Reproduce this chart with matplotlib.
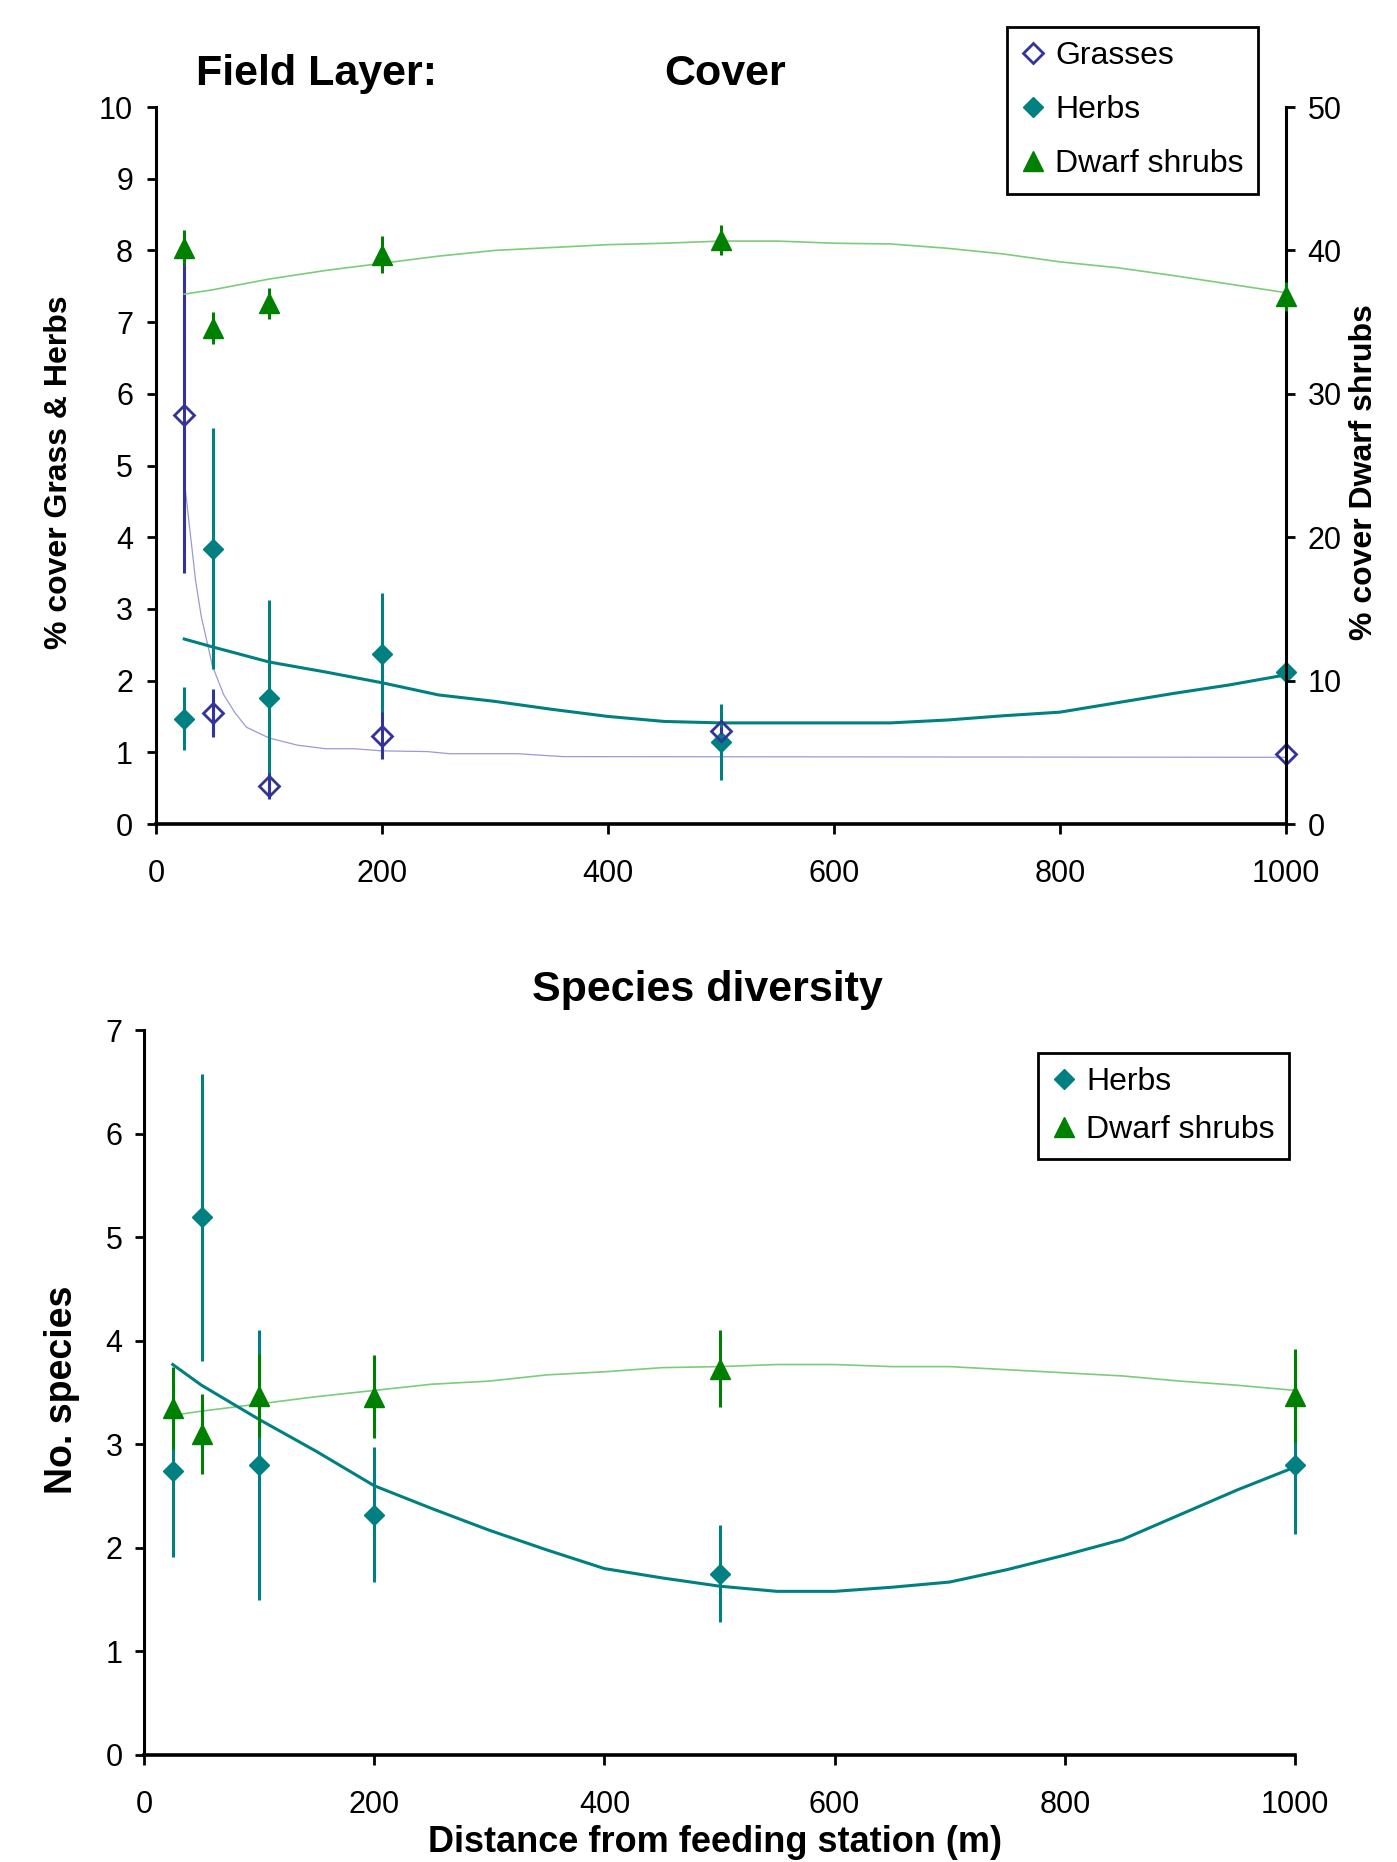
import matplotlib
matplotlib.use("Agg")
import matplotlib.pyplot as plt
from matplotlib.lines import Line2D

plt.rcParams['font.family'] = ['Liberation Sans', 'DejaVu Sans']

# distances of the sampling plots (m)
dist = [25, 50, 100, 200, 500, 1000]

# --- Field layer cover ---
grass_cover = [5.70, 1.55, 0.53, 1.23, 1.30, 0.98]
grass_err = [2.20, 0.33, 0.18, 0.33, 0.05, 0.0]
herb_cover = [1.47, 3.84, 1.76, 2.37, 1.15, 2.12]
herb_err = [0.44, 1.68, 1.37, 0.85, 0.53, 0.0]
shrub_cover = [40.2, 34.6, 36.3, 39.7, 40.7, 36.8]   # right axis
shrub_err = [1.2, 1.1, 1.1, 1.3, 1.05, 1.0]

# trend lines
grass_fit_x = [25, 30, 35, 40, 50, 60, 70, 80, 100, 125, 150, 175, 200, 240, 260, 320, 360, 1000]
grass_fit = [4.8, 4.1, 3.4, 2.9, 2.2, 1.8, 1.55, 1.35, 1.2, 1.1, 1.05, 1.05, 1.02, 1.01, 0.98, 0.98, 0.94, 0.93]

fit_x = [25, 50, 100, 150, 200, 250, 300, 350, 400, 450, 500,
         550, 600, 650, 700, 750, 800, 850, 900, 950, 1000]
herb_fit = [2.58, 2.47, 2.26, 2.12, 1.97, 1.80, 1.71, 1.60, 1.50, 1.43, 1.41,
            1.41, 1.41, 1.41, 1.45, 1.51, 1.56, 1.69, 1.82, 1.94, 2.08]
shrub_fit = [36.95, 37.25, 38.0, 38.6, 39.1, 39.6, 40.0, 40.2, 40.4, 40.5, 40.65,
             40.65, 40.5, 40.45, 40.15, 39.75, 39.2, 38.8, 38.25, 37.65, 37.05]

# --- Species diversity ---
div_herb = [2.74, 5.19, 2.80, 2.32, 1.75, 2.80]
div_herb_err = [0.83, 1.39, 1.30, 0.65, 0.47, 0.67]
div_shrub = [3.35, 3.10, 3.47, 3.46, 3.73, 3.47]
div_shrub_err = [0.40, 0.39, 0.40, 0.40, 0.37, 0.45]

div_herb_fit = [3.77, 3.57, 3.24, 2.93, 2.60, 2.38, 2.17, 1.98, 1.80, 1.71, 1.63,
                1.58, 1.58, 1.62, 1.67, 1.79, 1.93, 2.08, 2.32, 2.56, 2.78]
div_shrub_fit = [3.28, 3.32, 3.39, 3.46, 3.52, 3.58, 3.61, 3.67, 3.70, 3.74, 3.75,
                 3.77, 3.77, 3.75, 3.75, 3.72, 3.69, 3.66, 3.61, 3.57, 3.52]

c_grass = '#333399'
c_grass_fit = '#9a9ad8'
c_herb = '#008080'
c_shrub = '#008000'
c_shrub_fit = '#7ccc7c'

TICK = 22
LEG = 23
W, H = 1397, 1862
MS_D = 10
MS_T = 14


def style_axis(ax, xpad, ypad):
    for s in ['top', 'right']:
        ax.spines[s].set_visible(False)
    ax.spines['left'].set_linewidth(2.2)
    ax.spines['bottom'].set_linewidth(2.6)
    ax.tick_params(axis='y', labelsize=TICK, length=6.5, width=2, pad=ypad)
    ax.tick_params(axis='x', labelsize=TICK, length=7.5, width=2, pad=xpad)


fig = plt.figure(figsize=(W / 100, H / 100), dpi=100)

# ---------------- top panel ----------------
ax1 = fig.add_axes([156 / W, 1 - 824 / H, 1130 / W, 717 / H])
ax2 = ax1.twinx()
ax2.set_position(ax1.get_position())

ax1.plot(grass_fit_x, grass_fit, color=c_grass_fit, lw=0.9, zorder=2)
ax1.plot(fit_x, herb_fit, color=c_herb, lw=2.2, zorder=2)
ax2.plot(fit_x, shrub_fit, color=c_shrub_fit, lw=1.2, zorder=2)

ax1.errorbar(dist, grass_cover, yerr=grass_err, fmt='D', ms=MS_D, mfc='none',
             mec=c_grass, mew=2, ecolor=c_grass, elinewidth=2.2, capsize=0,
             clip_on=False, zorder=4)
ax1.errorbar(dist, herb_cover, yerr=herb_err, fmt='D', ms=MS_D, color=c_herb,
             ecolor=c_herb, elinewidth=2.2, capsize=0, clip_on=False, zorder=3)
ax2.errorbar(dist, shrub_cover, yerr=shrub_err, fmt='^', ms=MS_T, color=c_shrub,
             ecolor=c_shrub, elinewidth=2.2, capsize=0, clip_on=False, zorder=3)

ax1.set_xlim(0, 1000)
ax1.set_ylim(0, 10)
ax1.set_xticks(range(0, 1001, 200))
ax1.set_yticks(range(0, 11))
ax2.set_ylim(0, 50)
ax2.set_yticks(range(0, 51, 10))
style_axis(ax1, xpad=18, ypad=10)
ax2.spines['top'].set_visible(False)
ax2.spines['left'].set_visible(False)
ax2.spines['bottom'].set_visible(False)
ax2.spines['right'].set_linewidth(2.2)
ax2.tick_params(axis='y', labelsize=TICK, length=6.5, width=2, pad=9)

fig.text(317 / W, 1 - 74 / H, 'Field Layer:', fontsize=31, fontweight='bold',
         ha='center', va='center')
fig.text(725 / W, 1 - 74 / H, 'Cover', fontsize=31, fontweight='bold',
         ha='center', va='center')
fig.text(59 / W, 1 - 472 / H, '% cover Grass & Herbs', fontsize=23,
         fontweight='bold', rotation=90, ha='center', va='center')
fig.text(1364 / W, 1 - 472 / H, '% cover Dwarf shrubs', fontsize=23,
         fontweight='bold', rotation=90, ha='center', va='center')

h_top = [
    Line2D([], [], ls='none', marker='D', ms=MS_D, mfc='none', mec=c_grass, mew=2),
    Line2D([], [], ls='none', marker='D', ms=MS_D, color=c_herb),
    Line2D([], [], ls='none', marker='^', ms=MS_T, color=c_shrub),
]
leg1 = fig.legend(h_top, ['Grasses', 'Herbs', 'Dwarf shrubs'], loc='upper right',
                  bbox_to_anchor=(1258 / W, 1 - 27 / H), fontsize=LEG,
                  frameon=True, fancybox=False, edgecolor='black', framealpha=1,
                  handlelength=0.7, handletextpad=0.35, labelspacing=0.75,
                  borderpad=0.45, borderaxespad=0)
leg1.get_frame().set_linewidth(2)

# ---------------- bottom panel ----------------
ax3 = fig.add_axes([144 / W, 1 - 1755 / H, 1151 / W, 725 / H])
ax3.plot(fit_x, div_shrub_fit, color=c_shrub_fit, lw=1.2, zorder=2)
ax3.plot(fit_x, div_herb_fit, color=c_herb, lw=2.2, zorder=2)
ax3.errorbar(dist, div_herb, yerr=div_herb_err, fmt='D', ms=MS_D, color=c_herb,
             ecolor=c_herb, elinewidth=2.2, capsize=0, clip_on=False, zorder=3)
ax3.errorbar(dist, div_shrub, yerr=div_shrub_err, fmt='^', ms=MS_T, color=c_shrub,
             ecolor=c_shrub, elinewidth=2.2, capsize=0, clip_on=False, zorder=4)
ax3.set_xlim(0, 1000)
ax3.set_ylim(0, 7)
ax3.set_xticks(range(0, 1001, 200))
ax3.set_yticks(range(0, 8))
style_axis(ax3, xpad=18, ypad=9)

fig.text(707 / W, 1 - 990 / H, 'Species diversity', fontsize=31,
         fontweight='bold', ha='center', va='center')
fig.text(62 / W, 1 - 1390 / H, 'No. species', fontsize=27, fontweight='bold',
         rotation=90, ha='center', va='center')
fig.text(715 / W, 10 / H, 'Distance from feeding station (m)', fontsize=26,
         fontweight='bold', ha='center', va='baseline')

h_bot = [
    Line2D([], [], ls='none', marker='D', ms=MS_D, color=c_herb),
    Line2D([], [], ls='none', marker='^', ms=MS_T, color=c_shrub),
]
leg2 = fig.legend(h_bot, ['Herbs', 'Dwarf shrubs'], loc='upper right',
                  bbox_to_anchor=(1289 / W, 1 - 1053 / H), fontsize=LEG,
                  frameon=True, fancybox=False, edgecolor='black', framealpha=1,
                  handlelength=0.7, handletextpad=0.35, labelspacing=0.55,
                  borderpad=0.45, borderaxespad=0)
leg2.get_frame().set_linewidth(2)

fig.savefig('out.png', dpi=100)
